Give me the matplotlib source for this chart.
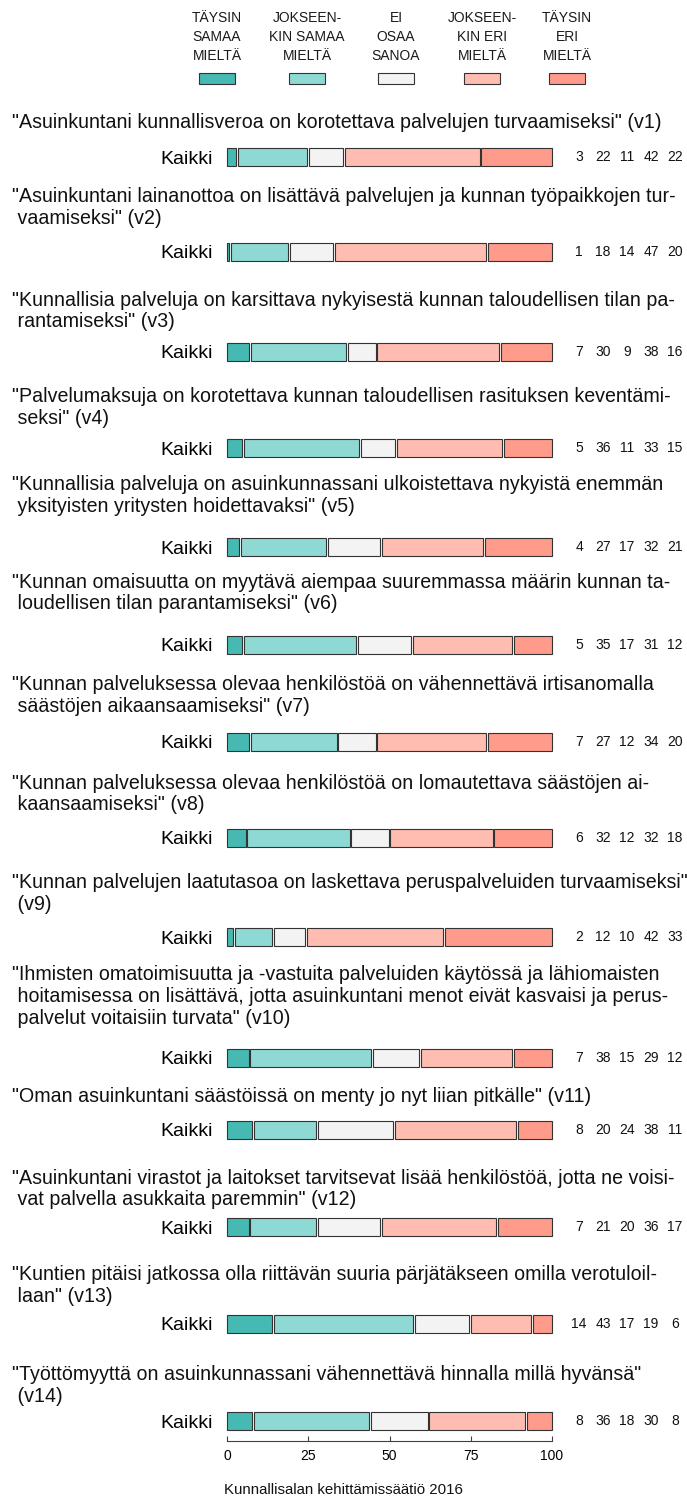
import matplotlib
matplotlib.use('Agg')
import matplotlib.pyplot as plt
from matplotlib.patches import Rectangle
import numpy as np

plt.rcParams['font.family'] = ['Liberation Sans', 'DejaVu Sans']

# --- data ---------------------------------------------------------------
categories = ['TÄYSIN\nSAMAA\nMIELTÄ', 'JOKSEEN-\nKIN SAMAA\nMIELTÄ', 'EI\nOSAA\nSANOA',
              'JOKSEEN-\nKIN ERI\nMIELTÄ', 'TÄYSIN\nERI\nMIELTÄ']
colors = ['#45B9B2', '#8ED9D3', '#F3F3F3', '#FFBCB0', '#FF9B8A']
group_label = 'Kaikki'

statements = [
    ['"Asuinkuntani kunnallisveroa on korotettava palvelujen turvaamiseksi" (v1)'],
    ['"Asuinkuntani lainanottoa on lisättävä palvelujen ja kunnan työpaikkojen tur-',
     ' vaamiseksi" (v2)'],
    ['"Kunnallisia palveluja on karsittava nykyisestä kunnan taloudellisen tilan pa-',
     ' rantamiseksi" (v3)'],
    ['"Palvelumaksuja on korotettava kunnan taloudellisen rasituksen keventämi-',
     ' seksi" (v4)'],
    ['"Kunnallisia palveluja on asuinkunnassani ulkoistettava nykyistä enemmän',
     ' yksityisten yritysten hoidettavaksi" (v5)'],
    ['"Kunnan omaisuutta on myytävä aiempaa suuremmassa määrin kunnan ta-',
     ' loudellisen tilan parantamiseksi" (v6)'],
    ['"Kunnan palveluksessa olevaa henkilöstöä on vähennettävä irtisanomalla',
     ' säästöjen aikaansaamiseksi" (v7)'],
    ['"Kunnan palveluksessa olevaa henkilöstöä on lomautettava säästöjen ai-',
     ' kaansaamiseksi" (v8)'],
    ['"Kunnan palvelujen laatutasoa on laskettava peruspalveluiden turvaamiseksi"',
     ' (v9)'],
    ['"Ihmisten omatoimisuutta ja -vastuita palveluiden käytössä ja lähiomaisten',
     ' hoitamisessa on lisättävä, jotta asuinkuntani menot eivät kasvaisi ja perus-',
     ' palvelut voitaisiin turvata" (v10)'],
    ['"Oman asuinkuntani säästöissä on menty jo nyt liian pitkälle" (v11)'],
    ['"Asuinkuntani virastot ja laitokset tarvitsevat lisää henkilöstöä, jotta ne voisi-',
     ' vat palvella asukkaita paremmin" (v12)'],
    ['"Kuntien pitäisi jatkossa olla riittävän suuria pärjätäkseen omilla verotuloil-',
     ' laan" (v13)'],
    ['"Työttömyyttä on asuinkunnassani vähennettävä hinnalla millä hyvänsä"',
     ' (v14)'],
]

# percentages: täysin samaa, jokseenkin samaa, ei osaa, jokseenkin eri, täysin eri
shares = [
    [3, 22, 11, 42, 22],
    [1, 18, 14, 47, 20],
    [7, 30, 9, 38, 16],
    [5, 36, 11, 33, 15],
    [4, 27, 17, 32, 21],
    [5, 35, 17, 31, 12],
    [7, 27, 12, 34, 20],
    [6, 32, 12, 32, 18],
    [2, 12, 10, 42, 33],
    [7, 38, 15, 29, 12],
    [8, 20, 24, 38, 11],
    [7, 21, 20, 36, 17],
    [14, 43, 17, 19, 6],
    [8, 36, 18, 30, 8],
]
ticks = [0, 25, 50, 75, 100]
source = 'Kunnallisalan kehittämissäätiö 2016'

# --- layout (pixels) ----------------------------------------------------
W, H = 687, 1499
title_y = [123, 197, 300, 397, 485, 582, 685, 783, 883, 975, 1097, 1178, 1275, 1375]
bar_y = [157, 252, 352, 448, 547, 645, 742, 838, 937, 1058, 1130, 1227, 1324, 1421]
line_h = 21.5
legend_x = [217, 307, 396, 482, 567]
edge = '#333333'
PT = 0.72  # points per pixel at dpi 100


def fx(px):
    return px / W


def fy(py):
    return 1 - py / H


fig = plt.figure(figsize=(W / 100, H / 100), dpi=100)

# legend on top
for cx, lab, col in zip(legend_x, categories, colors):
    for k, line in enumerate(lab.split('\n')):
        fig.text(fx(cx), fy(18 + 19 * k), line, ha='center', va='center',
                 fontsize=10, color='#1a1a1a')
    fig.patches.append(Rectangle((fx(cx - 18), fy(84)), 36 / W, 11 / H,
                                 transform=fig.transFigure, facecolor=col,
                                 edgecolor=edge, linewidth=0.8))

gap = 0.6
for i, (lines, ty, by, vals) in enumerate(zip(statements, title_y, bar_y, shares)):
    for k, line in enumerate(lines):
        fig.text(fx(12), fy(ty + k * line_h), line, ha='left', va='center',
                 fontsize=14.1, color='#111111')

    ax = fig.add_axes([fx(227), fy(by + 15), 325 / W, 30 / H])
    v = np.array(vals, dtype=float)
    v = v * 100 / v.sum()
    lefts = np.concatenate([[0], np.cumsum(v)[:-1]])
    rights = lefts + v
    lefts = lefts + np.where(np.arange(5) > 0, gap / 2, 0)
    rights = rights - np.where(np.arange(5) < 4, gap / 2, 0)
    ax.barh([0] * 5, rights - lefts, left=lefts, height=0.6, color=colors,
            edgecolor=edge, linewidth=0.8, clip_on=False)
    ax.set_xlim(0, 100)
    ax.set_ylim(-0.5, 0.5)
    for s in ax.spines.values():
        s.set_visible(False)
    ax.set_yticks([0], [group_label], fontsize=14)
    ax.tick_params(axis='y', length=0, pad=10)
    ax.patch.set_alpha(0)

    # counts printed in fixed, centred columns right of the bar
    for k, x in enumerate(vals):
        ax.annotate(str(x), xy=(100, 0), xytext=((27 + 24 * k) * PT, 0),
                    textcoords='offset points', ha='center', va='center',
                    fontsize=10, color='#111111', annotation_clip=False)

    if i == len(shares) - 1:
        ax.spines['bottom'].set_visible(True)
        ax.spines['bottom'].set_position(('outward', 3.6))
        ax.spines['bottom'].set_bounds(0, 100)
        ax.spines['bottom'].set_color('#404040')
        ax.spines['bottom'].set_linewidth(0.8)
        ax.set_xticks(ticks, [str(t) for t in ticks], fontsize=10)
        ax.tick_params(axis='x', direction='in', length=3.6, width=0.8,
                       color='#404040', pad=5.5)
    else:
        ax.set_xticks([])

fig.text(0.5, fy(1490), source, ha='center', va='center', fontsize=10.8,
         color='#111111')

fig.savefig('out.png', dpi=100)
